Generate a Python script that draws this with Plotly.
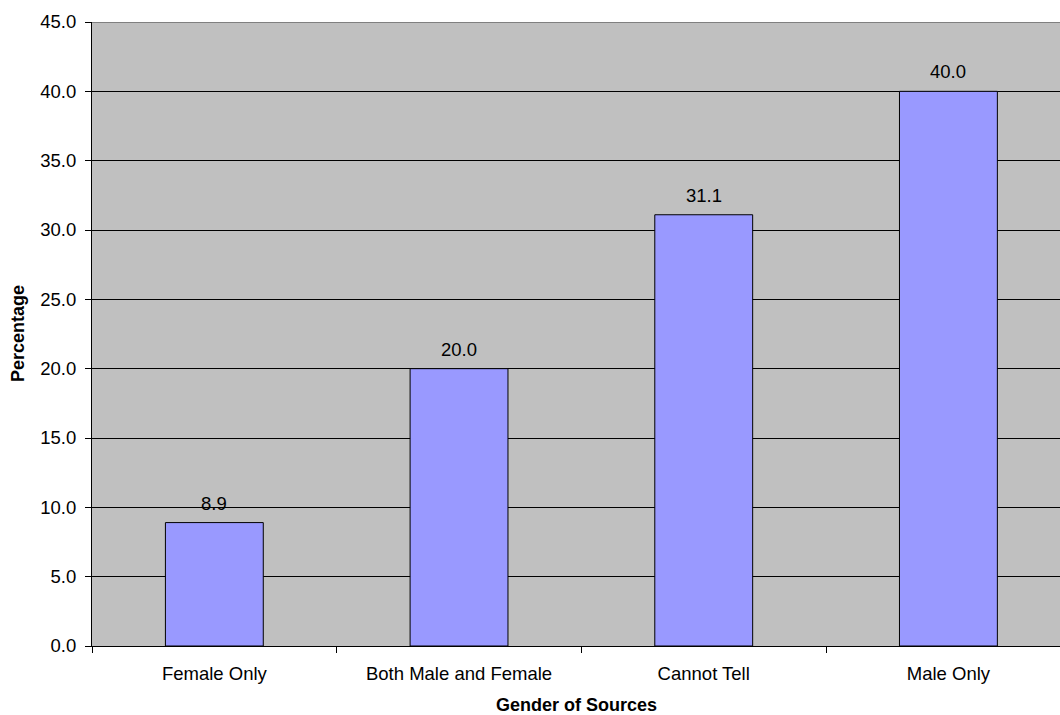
import plotly.graph_objects as go

# Share of items by gender of the sources quoted
categories = ["Female Only", "Both Male and Female", "Cannot Tell", "Male Only"]
percentages = [8.9, 20.0, 31.1, 40.0]
y_ticks = [0, 5, 10, 15, 20, 25, 30, 35, 40, 45]
y_tick_labels = [f"{v:.1f}" for v in y_ticks]

FONT = "Liberation Sans, Arial, sans-serif"
TICK_SIZE = 18.5
TITLE_SIZE = 18

fig = go.Figure()
fig.add_trace(go.Bar(
    x=categories,
    y=percentages,
    width=0.4,
    marker=dict(color="#9999FF", line=dict(color="#000000", width=1)),
    hoverinfo="x+y",
))

# Value labels above each bar
for cat, val in zip(categories, percentages):
    fig.add_annotation(
        x=cat, y=val, text=f"{val:.1f}", showarrow=False,
        yanchor="bottom", yshift=7,
        font=dict(family=FONT, size=TICK_SIZE, color="#000000"),
    )

# Axis titles
fig.add_annotation(
    xref="paper", yref="paper", x=0.5, y=0,
    text="<b>Gender of Sources</b>", showarrow=False,
    xanchor="center", yanchor="middle", yshift=-59,
    font=dict(family=FONT, size=TITLE_SIZE, color="#000000"),
)
fig.add_annotation(
    xref="paper", yref="paper", x=0, y=0.5,
    text="<b>Percentage</b>", showarrow=False, textangle=-90,
    xanchor="center", yanchor="middle", xshift=-74,
    font=dict(family=FONT, size=TITLE_SIZE, color="#000000"),
)

# Grey frame line along the top of the plot area
fig.add_shape(
    type="line", xref="paper", yref="y", x0=0, x1=1, y0=45, y1=45,
    line=dict(color="#808080", width=2), layer="above",
)

fig.update_layout(
    width=1060, height=715,
    margin=dict(l=92, r=0, t=22, b=69),
    paper_bgcolor="#FFFFFF",
    plot_bgcolor="#C0C0C0",
    showlegend=False,
    font=dict(family=FONT, size=TICK_SIZE, color="#000000"),
    bargap=0.6,
)

fig.update_xaxes(
    type="category",
    range=[-0.5, 3.456],
    showgrid=False,
    showline=True, linecolor="#000000", linewidth=1,
    ticks="outside", tickson="boundaries", ticklen=6,
    tickcolor="#000000", tickwidth=1,
    ticklabelstandoff=11,
    tickfont=dict(family=FONT, size=TICK_SIZE, color="#000000"),
    zeroline=False,
)

fig.update_yaxes(
    range=[0, 45],
    tickvals=y_ticks, ticktext=y_tick_labels,
    showgrid=True, gridcolor="#000000", gridwidth=1,
    showline=True, linecolor="#000000", linewidth=1,
    ticks="outside", ticklen=6, tickcolor="#000000", tickwidth=1,
    ticklabelstandoff=5,
    tickfont=dict(family=FONT, size=TICK_SIZE, color="#000000"),
    zeroline=False,
)

fig.write_html("out.html")
